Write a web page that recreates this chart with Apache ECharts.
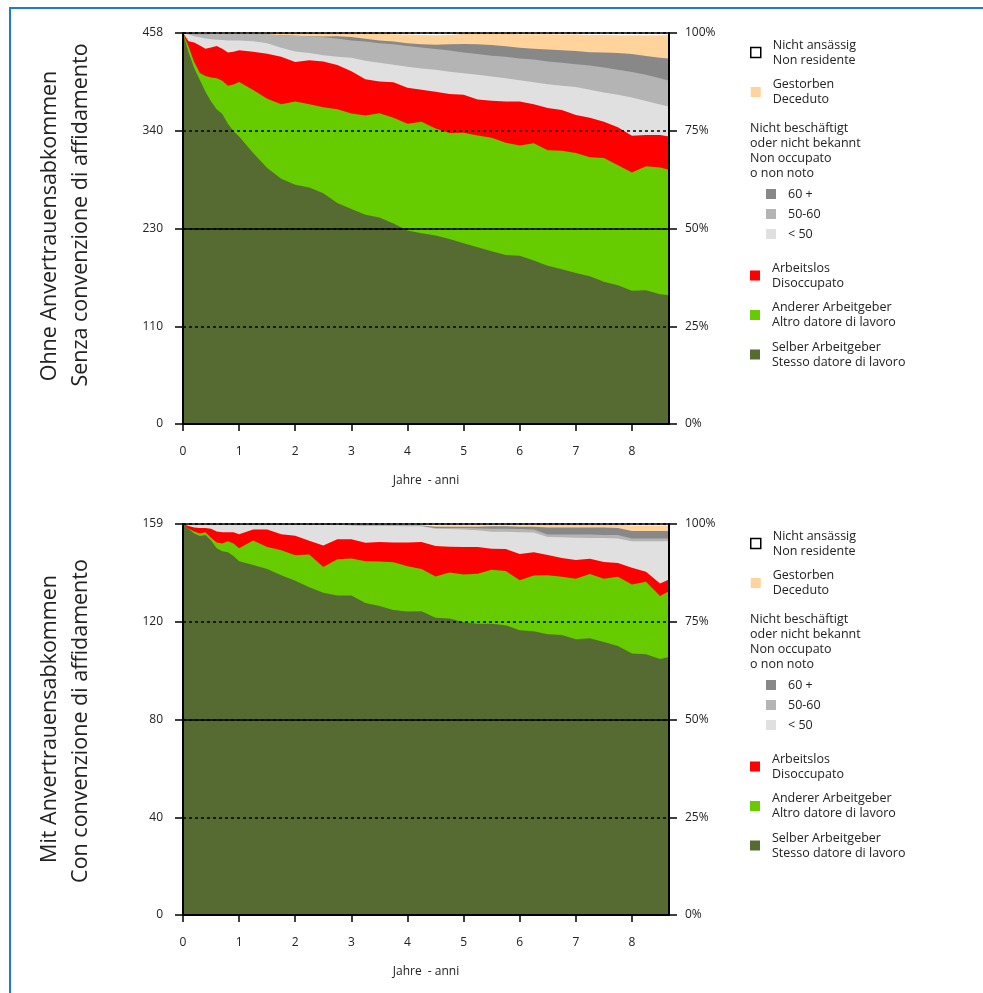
<!DOCTYPE html>
<html>
<head>
<meta charset="utf-8">
<script src="https://cdn.jsdelivr.net/npm/echarts/dist/echarts.min.js"></script>
<style>
html,body{margin:0;padding:0;background:#fff;}
#chart{width:983px;height:993px;}
</style>
</head>
<body>
<div id="chart"></div>
<script>
// ---- data (cumulative share in % of the cohort, upper edge of each status band) ----
const years = [0,0.1,0.2,0.3,0.4,0.5,0.6,0.7,0.8,0.9,1.0,1.25,1.5,1.75,2.0,2.25,2.5,2.75,3.0,3.25,3.5,3.75,4.0,4.25,4.5,4.75,5.0,5.25,5.5,5.75,6.0,6.25,6.5,6.75,7.0,7.25,7.5,7.75,8.0,8.25,8.5,8.66];
const xTicks = [0,1,2,3,4,5,6,7,8];
const leftTickLabelsTop = ['0','110','230','340','458'];
const leftTickLabelsBottom = ['0','40','80','120','159'];
const rightTickLabels = ['0%','25%','50%','75%','100%'];

// Ohne Anvertrauensabkommen (n = 458)
const topNichtAnsaessig = [100,100,100,100,100,100,100,100,100,100,100,100,100,100,100,100,100,100,100,100,100,100,100,100,100,100,100,100,100,100,100,100,100,100,100,100,100,100,100,100,100,100];
const topGestorben = [100,99.9,99.8,99.7,99.7,99.6,99.6,99.6,99.6,99.6,99.6,99.6,99.8,99.9,99.9,99.9,99.9,99.8,99.8,99.8,99.8,99.7,99.6,99.5,99.4,99.5,99.8,99.8,99.8,99.8,99.7,99.7,99.7,99.6,99.6,99.5,99.5,99.4,99.4,99.4,99.4,99.4];
const top60 = [100,99.9,99.8,99.7,99.7,99.6,99.6,99.6,99.6,99.6,99.6,99.6,99.6,99.4,99.3,99.2,99.1,99.2,99.0,98.5,98.1,97.8,97.4,97.1,97.0,97.1,97.2,97.1,96.9,96.6,96.2,96.0,95.8,95.6,95.4,95.1,95.0,94.9,94.6,94.1,93.7,93.5];
const top5060 = [100,99.9,99.8,99.7,99.7,99.6,99.6,99.6,99.6,99.6,99.6,99.6,99.6,99.4,99.3,99.2,98.9,98.6,98.1,97.8,97.4,97.1,96.7,96.3,95.9,95.5,95.0,94.6,94.2,93.9,93.5,93.2,92.7,92.4,92.0,91.7,91.2,90.6,90.0,89.3,88.4,87.8];
const topU50 = [100,99.6,99.2,98.9,98.6,98.4,98.3,98.2,98.1,98.1,98.1,97.9,97.4,96.2,95.3,94.9,94.3,93.9,93.7,92.9,92.4,91.9,91.4,90.9,90.6,90.1,89.7,89.3,88.9,88.4,87.9,87.4,86.9,86.5,86.2,85.5,84.8,84.2,83.5,82.6,81.7,81.2];
const topArbeitslos = [100,97.9,97.6,96.8,96.0,96.3,96.7,96.0,95.0,95.2,95.6,95.2,94.7,93.9,92.6,93.0,92.7,91.8,90.2,88.2,87.6,87.4,86.0,85.5,85.0,84.4,84.2,83.0,82.7,82.5,82.5,81.8,80.8,80.3,79.0,78.3,77.3,75.9,73.7,73.9,73.9,73.5];
const topAnderer = [100,96.5,92.5,89.8,89.0,88.6,88.4,87.8,86.5,86.8,87.5,85.4,83.2,81.8,82.5,81.8,81.0,80.5,79.4,78.9,79.5,78.3,76.8,77.3,75.6,74.4,74.5,73.8,73.2,71.9,71.2,71.8,70.0,69.9,69.3,68.2,68.0,66.2,64.3,65.9,65.6,65.0];
const topSelber = [100,95.0,91.0,88.0,85.0,82.5,80.5,79.3,76.8,74.9,73.5,69.3,65.5,62.7,61.2,60.5,59.0,56.5,55.0,53.5,52.8,51.3,49.5,48.8,48.2,47.3,46.2,45.2,44.2,43.2,43.0,41.8,40.5,39.6,38.6,37.8,36.4,35.5,34.1,34.2,33.2,32.9];

// Mit Anvertrauensabkommen (n = 159)
const botNichtAnsaessig = [100,100,100,100,100,100,100,100,100,100,100,100,100,100,100,100,100,100,100,100,100,100,100,100,100,100,100,100,100,100,100,100,100,100,100,100,100,100,100,100,100,100];
const botGestorben = [100,99.9,99.8,99.8,99.8,99.8,99.8,99.8,99.8,99.8,99.8,99.8,99.8,99.8,99.8,99.8,99.8,99.8,99.7,99.6,99.6,99.6,99.6,99.6,99.6,99.7,99.7,99.7,99.7,99.7,99.7,99.7,99.8,99.8,99.8,99.8,99.8,99.8,99.6,99.6,99.6,99.6];
const bot60 = [100,99.9,99.8,99.8,99.8,99.8,99.8,99.8,99.8,99.8,99.8,99.8,99.8,99.8,99.8,99.8,99.8,99.8,99.7,99.6,99.6,99.6,99.6,99.6,99.3,99.3,99.3,99.3,99.4,99.4,99.3,99.3,99.1,99.1,99.1,99.1,99.1,99.0,98.2,98.2,98.2,98.2];
const bot5060 = [100,99.9,99.8,99.8,99.8,99.8,99.8,99.8,99.8,99.8,99.8,99.8,99.8,99.8,99.8,99.8,99.8,99.8,99.7,99.6,99.6,99.6,99.6,99.5,99.0,99.0,99.0,98.9,98.8,98.8,98.7,98.6,97.3,97.3,97.3,97.3,97.2,97.2,96.3,96.3,96.3,96.3];
const botU50 = [100,99.9,99.8,99.8,99.8,99.8,99.8,99.8,99.8,99.8,99.8,99.8,99.8,99.8,99.8,99.8,99.8,99.8,99.6,99.5,99.5,99.5,99.4,99.4,98.8,98.7,98.6,98.4,98.0,98.0,97.9,97.8,96.7,96.6,96.5,96.4,96.4,96.3,95.6,95.6,95.6,95.6];
const botArbeitslos = [100,99.5,99.1,99.0,99.0,98.8,98.1,97.9,97.9,97.9,97.4,98.6,98.6,97.4,97.0,95.7,94.5,96.1,96.1,95.2,95.4,95.3,95.3,95.4,94.4,94.2,94.1,94.1,93.7,93.6,92.3,92.8,92.1,91.3,90.8,91.1,90.3,90.0,88.8,87.8,84.8,85.8];
const botAnderer = [100,98.8,98.1,97.6,97.9,96.5,95.3,95.0,95.6,95.0,93.8,95.8,94.1,93.3,92.0,92.2,89.0,91.0,91.2,90.5,90.4,90.2,89.2,88.5,86.6,87.6,87.1,87.3,88.3,88.0,85.6,86.8,86.9,86.5,86.0,87.2,86.0,86.5,84.5,85.2,81.6,82.8];
const botSelber = [100,98.7,97.6,96.9,97.2,95.8,93.8,93.0,92.8,91.8,90.5,89.5,88.5,86.9,85.5,83.8,82.4,81.7,81.7,79.8,79.0,78.0,77.6,77.7,76.0,75.8,74.9,74.5,74.5,74.1,72.8,72.6,71.8,71.6,70.5,70.8,69.8,68.8,66.9,66.7,65.5,66.0];

const seriesNames = ['Nicht ansässig','Gestorben','60 +','50-60','< 50','Arbeitslos','Anderer Arbeitgeber','Selber Arbeitgeber'];
const legendText = {
  'Nicht ansässig': 'Nicht ansässig\nNon residente',
  'Gestorben': 'Gestorben\nDeceduto',
  '60 +': '60 +',
  '50-60': '50-60',
  '< 50': '< 50',
  'Arbeitslos': 'Arbeitslos\nDisoccupato',
  'Anderer Arbeitgeber': 'Anderer Arbeitgeber\nAltro datore di lavoro',
  'Selber Arbeitgeber': 'Selber Arbeitgeber\nStesso datore di lavoro'
};
const colors = {
  'Nicht ansässig': '#ffffff',
  'Gestorben': '#ffd39b',
  '60 +': '#888888',
  '50-60': '#b4b4b4',
  '< 50': '#e0e0e0',
  'Arbeitslos': '#ff0000',
  'Anderer Arbeitgeber': '#66cc00',
  'Selber Arbeitgeber': '#566b31'
};

const FONT = "'Open Sans', 'Noto Sans', sans-serif";
const panels = [
  {top: 33, leftLabels: leftTickLabelsTop, data: [topNichtAnsaessig, topGestorben, top60, top5060, topU50, topArbeitslos, topAnderer, topSelber],
   title1: 'Ohne Anvertrauensabkommen', title2: 'Senza convenzione di affidamento', c1: 226, c2: 215},
  {top: 524, leftLabels: leftTickLabelsBottom, data: [botNichtAnsaessig, botGestorben, bot60, bot5060, botU50, botArbeitslos, botAnderer, botSelber],
   title1: 'Mit Anvertrauensabkommen', title2: 'Con convenzione di affidamento', c1: 719, c2: 721}
];
const GRID_H = 391;

const grid = [], xAxis = [], yAxis = [], series = [], legend = [], graphic = [];

panels.forEach((p, gi) => {
  grid.push({left: 183, top: p.top, width: 486, height: GRID_H});
  xAxis.push({
    gridIndex: gi, type: 'value', min: 0, max: 8.66, z: 10,
    axisLine: {show: true, lineStyle: {color: '#000', width: 2}},
    axisTick: {show: true, length: 7, lineStyle: {color: '#000', width: 1.5}, customValues: xTicks},
    axisLabel: {customValues: xTicks, margin: 22, fontSize: 12, color: '#222', fontFamily: FONT},
    splitLine: {show: false},
    name: 'Jahre  - anni', nameLocation: 'middle', nameGap: 51,
    nameTextStyle: {fontSize: 12, color: '#222', fontFamily: FONT}
  });
  const yBase = 3 * gi;
  yAxis.push({
    gridIndex: gi, type: 'value', min: 0, max: 100, interval: 25, position: 'left', z: 10,
    axisLine: {show: true, lineStyle: {color: '#000', width: 2}},
    axisTick: {show: true, length: 8, lineStyle: {color: '#000', width: 1.5}},
    axisLabel: {margin: 20, fontSize: 12, color: '#222', fontFamily: FONT,
      formatter: v => p.leftLabels[Math.round(v / 25)]},
    splitLine: {show: true, lineStyle: {color: '#000', width: 1.5, type: [3, 3]}}
  });
  yAxis.push({
    gridIndex: gi, type: 'value', min: 0, max: 100, interval: 25, position: 'right', z: 10,
    axisLine: {show: true, lineStyle: {color: '#000', width: 2}},
    axisTick: {show: true, length: 8, lineStyle: {color: '#000', width: 1.5}},
    axisLabel: {margin: 16, fontSize: 12, color: '#222', fontFamily: FONT,
      formatter: v => rightTickLabels[Math.round(v / 25)]},
    splitLine: {show: false}
  });
  yAxis.push({
    gridIndex: gi, type: 'value', min: 0, max: 100, interval: 50, position: 'right', z: 11,
    axisLine: {show: false}, axisTick: {show: false}, axisLabel: {show: false},
    splitLine: {show: true, lineStyle: {color: '#000', width: 1.5, type: 'solid'}}
  });
  seriesNames.forEach((name, si) => {
    series.push({
      name: name, type: 'line', xAxisIndex: gi, yAxisIndex: yBase,
      data: years.map((t, i) => [t, p.data[si][i]]),
      showSymbol: false, symbol: 'none', smooth: false, silent: true,
      lineStyle: {width: 0, color: colors[name]},
      itemStyle: {color: colors[name]},
      areaStyle: {color: colors[name], opacity: 1},
      emphasis: {disabled: true}
    });
  });
  const off = p.top - 33;
  const common = {
    orient: 'vertical', icon: 'rect', itemWidth: 10, itemHeight: 10, selectedMode: false, padding: 0,
    formatter: n => legendText[n],
    textStyle: {fontSize: 12.5, lineHeight: 15, color: '#222', fontFamily: FONT, padding: [0, 0, 0, 7]}
  };
  legend.push(Object.assign({}, common, {left: 750, top: 37.5 + off, itemGap: 9.5,
    data: [{name: 'Nicht ansässig', itemStyle: {color: '#fff', borderColor: '#000', borderWidth: 1.5}}, 'Gestorben']}));
  legend.push(Object.assign({}, common, {left: 766, top: 186.5 + off, itemGap: 5,
    data: ['60 +', '50-60', '< 50']}));
  legend.push(Object.assign({}, common, {left: 750, top: 260.5 + off, itemGap: 9.5,
    data: ['Arbeitslos', 'Anderer Arbeitgeber', 'Selber Arbeitgeber']}));
  graphic.push({type: 'text', left: 750, top: 120.5 + off, z: 20,
    style: {text: 'Nicht beschäftigt\noder nicht bekannt\nNon occupato\no non noto',
      fontSize: 12.5, lineHeight: 15, fill: '#222', fontFamily: FONT}});
  graphic.push({type: 'text', x: 50, y: p.c1, rotation: Math.PI / 2, z: 20,
    style: {text: p.title1, fontSize: 21.5, fill: '#222', fontFamily: FONT,
      align: 'center', verticalAlign: 'middle'}});
  graphic.push({type: 'text', x: 80.5, y: p.c2, rotation: Math.PI / 2, z: 20,
    style: {text: p.title2, fontSize: 21.5, fill: '#222', fontFamily: FONT,
      align: 'center', verticalAlign: 'middle'}});
});

graphic.push({type: 'rect', z: 30, silent: true, shape: {x: 10, y: 8, width: 1000, height: 1000},
  style: {fill: 'none', stroke: '#1f7ad6', lineWidth: 2}});

const chart = echarts.init(document.getElementById('chart'), null, {renderer: 'canvas'});
chart.setOption({
  animation: false,
  backgroundColor: '#fff',
  grid, xAxis, yAxis, series, legend, graphic
});
</script>
</body>
</html>
